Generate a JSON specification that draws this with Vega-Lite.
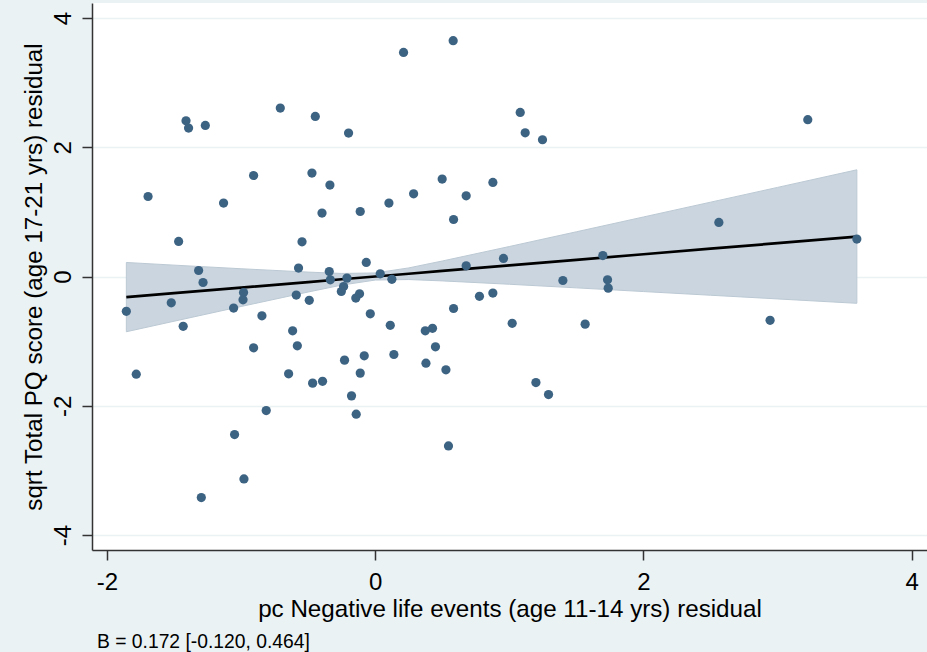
{
  "$schema": "https://vega.github.io/schema/vega-lite/v6.json",
  "autosize": {"type": "none"},
  "padding": {"left": 92, "top": 3, "right": 0, "bottom": 102},
  "width": 835,
  "height": 547,
  "background": "#EAF2F3",
  "config": {
    "font": "Liberation Sans",
    "view": {"fill": "#FFFFFF", "stroke": null},
    "axis": {
      "domainColor": "#333333", "domainWidth": 1.5,
      "tickColor": "#333333", "tickWidth": 1.5, "tickSize": 10,
      "labelFont": "Liberation Sans", "labelFontSize": 24, "labelColor": "#000000",
      "labelFlush": false, "labelOverlap": false,
      "labelExpr": "datum.value < 0 ? '-' + abs(datum.value) : '' + datum.value",
      "titleFont": "Liberation Sans", "titleFontSize": 24.2, "titleFontWeight": "normal", "titleColor": "#000000"
    }
  },
  "title": {
    "text": "B = 0.172 [-0.120, 0.464]",
    "orient": "bottom", "anchor": "start", "frame": "group",
    "fontSize": 19.3, "font": "Liberation Sans", "fontWeight": "normal", "color": "#000000",
    "baseline": "alphabetic", "offset": 26, "dx": 5
  },
  "datasets": {
    "pts": [
      {"x": -0.708, "y": 2.607}, {"x": -1.411, "y": 2.410}, {"x": -1.392, "y": 2.297}, {"x": -1.267, "y": 2.337},
      {"x": -0.447, "y": 2.477}, {"x": -1.694, "y": 1.238}, {"x": -0.907, "y": 1.563}, {"x": -0.472, "y": 1.601},
      {"x": -1.131, "y": 1.136}, {"x": -0.397, "y": 0.981}, {"x": -1.466, "y": 0.542}, {"x": -0.546, "y": 0.537},
      {"x": -1.317, "y": 0.093}, {"x": -1.284, "y": -0.093}, {"x": -0.572, "y": 0.130}, {"x": -1.856, "y": -0.539},
      {"x": -1.521, "y": -0.407}, {"x": -0.982, "y": -0.248}, {"x": -0.986, "y": -0.361}, {"x": -1.056, "y": -0.489},
      {"x": -0.589, "y": -0.288}, {"x": -0.492, "y": -0.368}, {"x": -0.845, "y": -0.608}, {"x": -1.432, "y": -0.771},
      {"x": -0.616, "y": -0.841}, {"x": -0.581, "y": -1.073}, {"x": -0.907, "y": -1.104}, {"x": -1.782, "y": -1.511},
      {"x": -0.646, "y": -1.506}, {"x": -0.467, "y": -1.650}, {"x": -0.393, "y": -1.622}, {"x": -0.813, "y": -2.074},
      {"x": -1.049, "y": -2.446}, {"x": -0.979, "y": -3.132}, {"x": -1.297, "y": -3.421}, {"x": 0.211, "y": 3.467},
      {"x": 0.581, "y": 3.649}, {"x": -0.199, "y": 2.220}, {"x": 1.081, "y": 2.539}, {"x": 1.118, "y": 2.224},
      {"x": 1.247, "y": 2.116}, {"x": -0.338, "y": 1.415}, {"x": 0.499, "y": 1.508}, {"x": 0.877, "y": 1.455},
      {"x": -0.112, "y": 1.006}, {"x": 0.102, "y": 1.136}, {"x": 0.286, "y": 1.280}, {"x": 0.678, "y": 1.249},
      {"x": 0.584, "y": 0.882}, {"x": -0.067, "y": 0.217}, {"x": -0.343, "y": 0.077}, {"x": -0.335, "y": -0.051},
      {"x": -0.211, "y": -0.025}, {"x": -0.236, "y": -0.155}, {"x": -0.253, "y": -0.232}, {"x": 0.037, "y": 0.042},
      {"x": 0.124, "y": -0.043}, {"x": -0.117, "y": -0.268}, {"x": -0.145, "y": -0.334}, {"x": -0.037, "y": -0.577},
      {"x": 0.112, "y": -0.755}, {"x": 0.373, "y": -0.841}, {"x": 0.427, "y": -0.802}, {"x": 0.449, "y": -1.088},
      {"x": 0.584, "y": -0.495}, {"x": 0.678, "y": 0.166}, {"x": 0.777, "y": -0.307}, {"x": 0.877, "y": -0.257},
      {"x": 0.956, "y": 0.279}, {"x": 1.021, "y": -0.724}, {"x": 1.399, "y": -0.062}, {"x": 1.565, "y": -0.737},
      {"x": 1.697, "y": 0.324}, {"x": 1.732, "y": -0.051}, {"x": 1.737, "y": -0.180}, {"x": -0.229, "y": -1.294},
      {"x": -0.082, "y": -1.228}, {"x": -0.112, "y": -1.495}, {"x": 0.139, "y": -1.207}, {"x": 0.378, "y": -1.341},
      {"x": 0.527, "y": -1.444}, {"x": -0.177, "y": -1.847}, {"x": -0.142, "y": -2.130}, {"x": 0.546, "y": -2.621},
      {"x": 1.198, "y": -1.641}, {"x": 1.292, "y": -1.827}, {"x": 3.225, "y": 2.426}, {"x": 2.562, "y": 0.836},
      {"x": 3.591, "y": 0.579}, {"x": 2.944, "y": -0.678}
    ],
    "fit": [
      {"x": -1.856, "fit": -0.319, "lo": -0.855, "hi": 0.217},
      {"x": -1.5, "fit": -0.258, "lo": -0.692, "hi": 0.176},
      {"x": -1.0, "fit": -0.172, "lo": -0.464, "hi": 0.120},
      {"x": -0.5, "fit": -0.086, "lo": -0.240, "hi": 0.068},
      {"x": -0.25, "fit": -0.043, "lo": -0.133, "hi": 0.047},
      {"x": 0.0, "fit": 0.0, "lo": -0.055, "hi": 0.055},
      {"x": 0.25, "fit": 0.043, "lo": -0.047, "hi": 0.133},
      {"x": 0.5, "fit": 0.086, "lo": -0.068, "hi": 0.240},
      {"x": 1.0, "fit": 0.172, "lo": -0.120, "hi": 0.464},
      {"x": 1.5, "fit": 0.258, "lo": -0.176, "hi": 0.692},
      {"x": 2.0, "fit": 0.344, "lo": -0.233, "hi": 0.921},
      {"x": 2.5, "fit": 0.430, "lo": -0.290, "hi": 1.150},
      {"x": 3.0, "fit": 0.516, "lo": -0.347, "hi": 1.379},
      {"x": 3.591, "fit": 0.618, "lo": -0.415, "hi": 1.651}
    ]
  },
  "encoding": {
    "x": {
      "field": "x", "type": "quantitative",
      "scale": {"domain": [-2.112, 4.114], "nice": false, "zero": false},
      "axis": {
        "values": [-2, 0, 2, 4], "grid": false, "labelPadding": 10,
        "title": "pc Negative life events (age 11-14 yrs) residual",
        "titleX": 417.5, "titleY": 66.7, "titleBaseline": "alphabetic", "titleAlign": "center"
      }
    }
  },
  "layer": [
    {
      "data": {"name": "fit"},
      "mark": {"type": "area", "color": "#CAD5DF", "stroke": "#BCC9D4", "strokeWidth": 1},
      "encoding": {
        "y": {
          "field": "lo", "type": "quantitative",
          "scale": {"domain": [-4.232, 4.232], "nice": false, "zero": false},
          "axis": {
            "values": [-4, -2, 0, 2, 4], "grid": true, "gridColor": "#EAF2F3", "gridWidth": 1.5,
            "labelAngle": 270, "labelAlign": "center", "labelBaseline": "alphabetic", "labelPadding": 12,
            "title": "sqrt Total PQ score (age 17-21 yrs) residual",
            "titleAngle": 270, "titleX": -50.5, "titleY": 273.5, "titleBaseline": "alphabetic", "titleAlign": "center"
          }
        },
        "y2": {"field": "hi"}
      }
    },
    {
      "data": {"name": "fit"},
      "mark": {"type": "line", "color": "#000000", "strokeWidth": 2.7},
      "encoding": {"y": {"field": "fit", "type": "quantitative"}}
    },
    {
      "data": {"name": "pts"},
      "mark": {"type": "point", "filled": true, "shape": "circle", "size": 85, "color": "#3D6383", "opacity": 1},
      "encoding": {"y": {"field": "y", "type": "quantitative"}}
    }
  ]
}
